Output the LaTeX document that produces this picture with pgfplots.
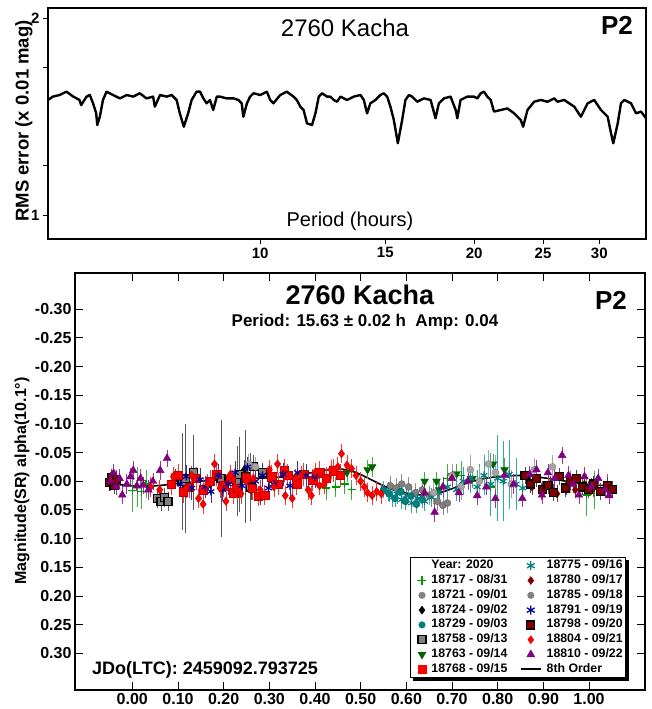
\documentclass[border=0pt]{standalone}
\usepackage{fontspec}
\setmainfont{Liberation Sans}
\usepackage{pgfplots}
\pgfplotsset{compat=1.18}
\pgfdeclarelayer{background}
\pgfsetlayers{background,main}

\definecolor{cGreen}{RGB}{0,150,0}
\definecolor{cGreenEb}{RGB}{70,170,70}
\definecolor{cGray}{RGB}{128,128,128}
\definecolor{cGrayEb}{RGB}{140,140,140}
\definecolor{cLtGray}{RGB}{165,165,165}
\definecolor{cTeal}{RGB}{0,128,128}
\definecolor{cTealEb}{RGB}{50,165,165}
\definecolor{cDkGreen}{RGB}{0,100,0}
\definecolor{cRed}{RGB}{255,0,0}
\definecolor{cRedEb}{RGB}{255,50,50}
\definecolor{cMaroon}{RGB}{128,0,0}
\definecolor{cNavy}{RGB}{0,0,150}
\definecolor{cPurple}{RGB}{128,0,128}
\definecolor{cPurpleEb}{RGB}{160,50,160}

\pgfplotsset{
  eb/.style={error bars/y dir=both, error bars/y explicit,
    error bars/error bar style={color=#1, line width=0.7pt},
    error bars/error mark options={color=#1, line width=0.7pt, mark size=2.8pt}},
  mk/.style={only marks, legend image code/.code={\draw[mark repeat=2,mark phase=2,##1] plot coordinates {(0pt,0pt) (10pt,0pt) (20pt,0pt)};}},
  linelg/.style={legend image code/.code={\draw[##1, black, line width=1.8pt] (0pt,0pt) -- (20pt,0pt);}},
}

\begin{document}
\begin{tikzpicture}
\path[use as bounding box] (0pt,0pt) rectangle (652pt,709pt);

% periodogram
\begin{axis}[at={(48pt,470pt)}, anchor=south west, scale only axis, width=598pt, height=231pt,
  xmode=log, xmin=5.03, xmax=34.9, ymin=0.878, ymax=2.051,
  xtick={10,15,20,25,30}, xticklabels={10,15,20,25,30}, minor xtick={},
  ytick={1,2}, yticklabels={1,2}, minor ytick={1.25,1.75},
  tick align=outside, xtick pos=bottom, ytick pos=left,
  major tick length=5pt, minor tick length=5pt,
  tick style={black, line width=0.8pt}, axis line style={line width=1.8pt},
  tick label style={font=\bfseries\fontsize{15}{15}\selectfont}]
\addplot[black, line width=2.4pt, line join=round] coordinates {
(5.03,1.584) (5.11,1.601) (5.22,1.609) (5.34,1.626) (5.46,1.601) (5.57,1.584) (5.60,1.558)
(5.70,1.601) (5.76,1.609) (5.82,1.567) (5.88,1.516) (5.90,1.457) (5.95,1.499) (6.01,1.584)
(6.08,1.626) (6.21,1.609) (6.35,1.592) (6.49,1.609) (6.63,1.601) (6.77,1.618) (6.92,1.592)
(7.07,1.601) (7.11,1.550) (7.23,1.609) (7.39,1.601) (7.51,1.609) (7.63,1.584) (7.71,1.516)
(7.81,1.448) (7.92,1.516) (8.01,1.584) (8.14,1.626) (8.23,1.626) (8.32,1.592) (8.41,1.567)
(8.50,1.584) (8.59,1.533) (8.69,1.601) (8.78,1.601) (8.97,1.592) (9.17,1.592) (9.32,1.584)
(9.42,1.567) (9.47,1.499) (9.58,1.567) (9.68,1.601) (9.79,1.618) (10.00,1.609) (10.22,1.626)
(10.33,1.584) (10.44,1.567) (10.67,1.609) (10.90,1.626) (11.14,1.601) (11.26,1.584) (11.39,1.550)
(11.51,1.533) (11.64,1.465) (11.83,1.457) (11.96,1.516) (12.09,1.601) (12.22,1.618) (12.42,1.601)
(12.55,1.601) (12.69,1.584) (12.83,1.575) (12.97,1.601) (13.25,1.584) (13.54,1.601) (13.84,1.609)
(13.99,1.584) (14.14,1.516) (14.29,1.567) (14.53,1.584) (14.76,1.609) (14.92,1.618) (15.09,1.601)
(15.25,1.550) (15.42,1.482) (15.62,1.364) (15.84,1.482) (16.01,1.584) (16.19,1.609) (16.36,1.601)
(16.63,1.575) (17.00,1.592) (17.37,1.584) (17.65,1.491) (17.84,1.567) (18.14,1.592) (18.53,1.601)
(18.84,1.533) (18.94,1.491) (19.14,1.584) (19.56,1.601) (19.99,1.601) (20.21,1.592) (20.43,1.618)
(20.65,1.626) (20.87,1.601) (21.10,1.584) (21.33,1.525) (21.80,1.533) (22.28,1.541) (22.76,1.516)
(23.26,1.482) (23.44,1.448) (23.77,1.533) (24.29,1.575) (24.82,1.584) (25.36,1.575) (25.92,1.592)
(26.20,1.575) (26.77,1.584) (27.66,1.550) (28.26,1.499) (28.88,1.567) (29.51,1.584) (30.16,1.533)
(30.82,1.499) (31.16,1.415) (31.39,1.364) (31.84,1.465) (32.18,1.567) (32.53,1.584) (33.25,1.567)
(33.79,1.516) (34.34,1.525) (34.90,1.491)};
\end{axis}

% phased lightcurve
\begin{axis}[at={(75pt,19pt)}, anchor=south west, scale only axis, width=570pt, height=417pt,
  xmin=-0.1255, xmax=1.1226, ymin=-0.363, ymax=0.364, y dir=reverse,
  xtick={0,0.1,0.2,0.3,0.4,0.5,0.6,0.7,0.8,0.9,1.0},
  ytick={-0.3,-0.25,-0.2,-0.15,-0.1,-0.05,0,0.05,0.1,0.15,0.2,0.25,0.3},
  tick align=inside, major tick length=8pt,
  tick style={black, line width=0.8pt}, axis line style={line width=1.5pt},
  tick label style={font=\bfseries\fontsize{16}{16}\selectfont,
    /pgf/number format/fixed, /pgf/number format/fixed zerofill,
    /pgf/number format/precision=2, /pgf/number format/assume math mode=true},
  legend columns=2, legend cell align=left,
  legend style={name=lgd, at={(0.5877,0.3182)}, anchor=north west, draw=black, line width=1pt, fill=white,
    font=\bfseries\fontsize{12.3}{12.5}\selectfont, inner xsep=1.5pt, inner ysep=0.5pt,
    nodes={inner sep=1.5pt, text height=8.8pt, text depth=3pt},
    /tikz/every odd column/.append style={column sep=3.5pt},
    /tikz/every even column/.append style={column sep=11pt}}]

% 8th order fit
\addplot[forget plot, black, line width=1.6pt, smooth] coordinates {
(-0.05,0.004) (0.00,0.008) (0.05,0.008) (0.10,0.004) (0.15,0.000) (0.20,-0.003) (0.25,-0.005)
(0.30,-0.006) (0.35,-0.009) (0.40,-0.016) (0.43,-0.020) (0.46,-0.021) (0.49,-0.015) (0.52,-0.004)
(0.55,0.008) (0.58,0.017) (0.61,0.022) (0.64,0.024) (0.67,0.021) (0.70,0.013) (0.73,0.004)
(0.76,-0.003) (0.80,-0.008) (0.85,-0.010) (0.90,-0.006) (0.95,0.000) (1.00,0.006) (1.05,0.008)};

% 18717 - 08/31
\addplot[forget plot, only marks, mark=+, mark size=4pt, mark options={cGreen, line width=1.2pt}, eb=cGreenEb]
table[x=x, y=y, y error=e] {
x y e
0.000 0.016 0.032
0.010 0.010 0.030
0.020 0.018 0.025
0.030 0.005 0.020
0.425 0.012 0.015
0.445 0.010 0.012
0.465 0.005 0.012
0.480 0.015 0.012
0.690 -0.005 0.020
0.720 -0.010 0.020
0.760 0.000 0.025
0.785 0.010 0.020
0.995 0.024 0.032
1.012 0.015 0.028
};
% 18721 - 09/01
\addplot[forget plot, only marks, mark=*, mark size=3.5pt, mark options={fill=cGray, draw=cGray!70!black, line width=0.4pt}, eb=cGrayEb]
table[x=x, y=y, y error=e] {
x y e
0.565 0.008 0.012
0.578 0.012 0.012
0.590 0.005 0.012
0.605 0.010 0.012
0.620 0.020 0.012
0.635 0.015 0.012
0.650 0.025 0.012
0.668 0.035 0.012
0.680 0.042 0.012
0.690 0.038 0.012
};
% 18724 - 09/02
\addplot[forget plot, only marks, mark=diamond*, mark size=4pt, mark options={fill=black, draw=black}, eb=black!75]
table[x=x, y=y, y error=e] {
x y e
0.095 -0.005 0.012
0.115 0.010 0.012
0.170 0.005 0.012
0.245 -0.020 0.012
0.260 0.015 0.012
0.280 0.025 0.012
0.300 -0.005 0.012
};
% 18729 - 09/03
\addplot[forget plot, only marks, mark=*, mark size=3.5pt, mark options={fill=cTeal, draw=cTeal!70!black, line width=0.4pt}, eb=cTealEb]
table[x=x, y=y, y error=e] {
x y e
0.550 0.015 0.010
0.562 0.022 0.010
0.575 0.030 0.010
0.588 0.018 0.010
0.598 0.035 0.010
0.610 0.026 0.010
0.622 0.040 0.010
0.635 0.032 0.010
};
% 18758 - 09/13
\addplot[forget plot, only marks, mark=square*, mark size=4pt, mark options={fill=cGray, draw=black, line width=1.2pt}, eb=black!65]
table[x=x, y=y, y error=e] {
x y e
0.055 0.030 0.012
0.063 0.035 0.012
0.070 0.028 0.012
0.078 0.035 0.012
0.109 0.000 0.080
0.116 -0.005 0.090
0.134 -0.015 0.060
0.194 -0.005 0.097
0.229 0.000 0.056
0.234 -0.012 0.060
0.247 -0.008 0.076
0.258 0.010 0.055
0.265 -0.025 0.015
0.285 -0.015 0.012
};
% 18763 - 09/14
\addplot[forget plot, only marks, mark=triangle*, mark size=4.5pt, mark options={rotate=180, fill=cDkGreen, draw=cDkGreen}, eb=cGreenEb]
table[x=x, y=y, y error=e] {
x y e
0.470 -0.015 0.012
0.515 -0.020 0.012
0.525 -0.025 0.012
0.640 0.000 0.012
0.666 0.000 0.012
0.672 0.015 0.012
0.700 -0.010 0.012
0.710 -0.013 0.012
0.745 -0.005 0.012
0.790 -0.030 0.012
0.815 -0.020 0.015
};
% 18768 - 09/15
\addplot[forget plot, only marks, mark=square*, mark size=4.2pt, mark options={fill=cRed, draw=cRed!75!black, line width=0.4pt}, eb=cRedEb]
table[x=x, y=y, y error=e] {
x y e
0.085 0.005 0.015
0.100 -0.010 0.015
0.112 0.018 0.015
0.125 0.010 0.015
0.140 -0.005 0.015
0.155 0.015 0.015
0.170 0.000 0.015
0.185 -0.012 0.015
0.200 0.008 0.015
0.215 -0.004 0.015
0.222 0.020 0.015
0.230 0.012 0.015
0.250 -0.006 0.015
0.262 0.012 0.015
0.275 0.026 0.012
0.290 0.024 0.012
0.305 -0.008 0.015
0.320 0.005 0.015
0.332 -0.018 0.015
0.340 -0.010 0.015
0.360 0.004 0.015
0.375 -0.012 0.015
0.395 -0.002 0.015
0.410 -0.015 0.015
0.425 -0.005 0.015
0.440 -0.018 0.015
0.455 -0.010 0.015
1.040 0.008 0.015
};
% 18775 - 09/16
\addplot[forget plot, only marks, mark=asterisk, mark size=4pt, mark options={cTeal, line width=1.2pt}, eb=cTealEb]
table[x=x, y=y, y error=e] {
x y e
0.560 0.018 0.012
0.570 0.028 0.012
0.580 0.022 0.012
0.590 0.032 0.012
0.600 0.025 0.012
0.612 0.038 0.012
0.625 0.030 0.012
0.640 0.035 0.012
0.655 0.028 0.012
0.670 0.020 0.015
0.690 0.010 0.015
0.710 0.015 0.015
0.725 0.000 0.020
0.740 -0.005 0.020
0.755 0.010 0.025
0.770 -0.010 0.030
0.785 0.005 0.050
0.800 -0.005 0.070
0.812 0.000 0.065
0.825 -0.012 0.055
0.840 0.005 0.040
0.855 0.012 0.020
};
% 18780 - 09/17
\addplot[forget plot, only marks, mark=diamond*, mark size=4pt, mark options={fill=cMaroon, draw=cMaroon}, eb=cMaroon!80]
table[x=x, y=y, y error=e] {
x y e
0.875 0.010 0.010
0.895 0.018 0.010
0.915 0.005 0.010
0.930 0.022 0.010
0.950 0.010 0.010
0.970 0.015 0.010
0.990 0.005 0.010
1.010 0.012 0.010
};
% 18785 - 09/18
\addplot[forget plot, only marks, mark=*, mark size=3.5pt, mark options={fill=cLtGray, draw=cGray, line width=0.4pt}, eb=cLtGray]
table[x=x, y=y, y error=e] {
x y e
0.255 -0.030 0.012
0.270 -0.025 0.012
0.660 0.020 0.015
0.700 -0.010 0.015
0.720 0.010 0.018
0.740 -0.020 0.020
0.760 0.000 0.020
0.780 -0.030 0.020
0.795 -0.015 0.025
0.830 0.005 0.020
0.880 -0.020 0.015
0.920 -0.025 0.015
0.960 0.000 0.015
};
% 18791 - 09/19
\addplot[forget plot, only marks, mark=asterisk, mark size=4pt, mark options={cNavy, line width=1.2pt}, eb=cNavy!80]
table[x=x, y=y, y error=e] {
x y e
0.105 0.005 0.015
0.118 -0.008 0.015
0.130 0.012 0.015
0.148 -0.003 0.015
0.160 0.010 0.015
0.172 0.018 0.015
0.188 -0.010 0.015
0.198 0.015 0.015
0.210 0.005 0.015
0.225 -0.015 0.015
0.240 0.008 0.015
0.252 -0.025 0.012
0.270 0.000 0.015
0.285 -0.010 0.015
0.298 0.012 0.015
0.310 0.005 0.015
0.330 -0.012 0.015
0.345 0.008 0.015
0.362 -0.015 0.015
0.380 -0.010 0.015
0.400 -0.008 0.015
};
% 18798 - 09/20
\addplot[forget plot, only marks, mark=square*, mark size=4pt, mark options={fill=cMaroon, draw=black, line width=1.2pt}, eb=black!70]
table[x=x, y=y, y error=e] {
x y e
-0.050 0.002 0.010
-0.045 -0.006 0.010
-0.040 0.008 0.010
-0.034 -0.003 0.012
0.860 -0.010 0.010
0.872 0.005 0.010
0.885 -0.005 0.010
0.898 0.015 0.010
0.910 0.008 0.010
0.922 0.020 0.010
0.935 -0.008 0.010
0.948 0.012 0.010
0.960 0.000 0.010
0.972 -0.005 0.010
0.985 0.010 0.010
0.998 0.015 0.010
1.010 0.005 0.010
1.025 0.018 0.010
1.040 0.008 0.010
1.052 0.015 0.010
};
% 18804 - 09/21
\addplot[forget plot, only marks, mark=diamond*, mark size=4.2pt, mark options={fill=cRed, draw=cRed!75!black, line width=0.4pt}, eb=cRedEb]
table[x=x, y=y, y error=e] {
x y e
0.040 0.010 0.012
0.060 0.015 0.012
0.090 -0.008 0.012
0.118 0.012 0.012
0.130 -0.010 0.012
0.145 0.030 0.012
0.155 0.040 0.012
0.165 0.005 0.012
0.180 -0.030 0.012
0.192 0.012 0.012
0.205 0.035 0.012
0.215 -0.012 0.012
0.225 0.010 0.012
0.238 0.022 0.012
0.250 0.000 0.012
0.265 -0.005 0.012
0.280 0.015 0.012
0.300 -0.020 0.012
0.310 0.010 0.012
0.318 -0.030 0.012
0.335 0.025 0.012
0.350 0.030 0.012
0.358 -0.005 0.012
0.370 -0.010 0.012
0.385 0.015 0.012
0.392 0.025 0.012
0.400 -0.015 0.012
0.410 0.008 0.012
0.420 0.005 0.012
0.435 -0.020 0.012
0.450 -0.025 0.012
0.458 -0.048 0.012
0.470 -0.028 0.012
0.480 -0.022 0.012
0.490 -0.010 0.012
0.500 0.000 0.012
0.508 0.010 0.012
0.515 0.020 0.012
0.525 0.025 0.012
0.535 0.018 0.012
0.545 0.022 0.012
};
% 18810 - 09/22
\addplot[forget plot, only marks, mark=triangle*, mark size=4.5pt, mark options={fill=cPurple, draw=cPurple}, eb=cPurpleEb]
table[x=x, y=y, y error=e] {
x y e
-0.048 0.000 0.012
-0.041 -0.014 0.012
-0.035 0.010 0.010
-0.028 -0.005 0.012
-0.022 0.024 0.010
-0.012 0.005 0.012
-0.004 -0.008 0.010
0.002 -0.019 0.012
0.010 0.008 0.010
0.018 -0.005 0.012
0.024 0.007 0.010
0.035 0.015 0.012
0.045 0.000 0.010
0.061 -0.019 0.012
0.076 -0.040 0.010
0.640 0.020 0.010
0.662 0.054 0.012
0.680 0.010 0.012
0.700 -0.005 0.010
0.715 0.020 0.012
0.735 0.000 0.010
0.755 0.025 0.012
0.775 0.010 0.010
0.795 0.030 0.012
0.815 -0.010 0.010
0.835 0.005 0.012
0.854 0.030 0.010
0.870 -0.012 0.010
0.885 -0.020 0.012
0.897 0.024 0.010
0.910 -0.015 0.010
0.925 -0.005 0.012
0.941 -0.045 0.010
0.955 -0.010 0.012
0.965 0.005 0.010
0.978 0.024 0.010
0.990 -0.008 0.012
1.005 0.010 0.010
1.020 -0.005 0.012
1.035 0.015 0.010
1.044 0.025 0.010
};

% legend, row by row
\addlegendimage{empty legend}\addlegendentry{Year: 2020}
\addlegendimage{mk, mark=asterisk, mark size=4.5pt, mark options={cTeal, line width=1.3pt}}\addlegendentry{18775 - 09/16}
\addlegendimage{mk, mark=+, mark size=4.5pt, mark options={cGreen, line width=1.5pt}}\addlegendentry{18717 - 08/31}
\addlegendimage{mk, mark=diamond*, mark size=4pt, mark options={fill=cMaroon, draw=cMaroon, line width=0.4pt}}\addlegendentry{18780 - 09/17}
\addlegendimage{mk, mark=*, mark size=3.3pt, mark options={fill=cGray, draw=cGray, line width=0.4pt}}\addlegendentry{18721 - 09/01}
\addlegendimage{mk, mark=*, mark size=3.3pt, mark options={fill=cGray, draw=cGray, line width=0.4pt}}\addlegendentry{18785 - 09/18}
\addlegendimage{mk, mark=diamond*, mark size=4pt, mark options={fill=black, draw=black, line width=0.4pt}}\addlegendentry{18724 - 09/02}
\addlegendimage{mk, mark=asterisk, mark size=4.5pt, mark options={cNavy, line width=1.3pt}}\addlegendentry{18791 - 09/19}
\addlegendimage{mk, mark=*, mark size=3.3pt, mark options={fill=cTeal, draw=cTeal, line width=0.4pt}}\addlegendentry{18729 - 09/03}
\addlegendimage{mk, mark=square*, mark size=4pt, mark options={fill=cMaroon, draw=black, line width=1.3pt}}\addlegendentry{18798 - 09/20}
\addlegendimage{mk, mark=square*, mark size=4pt, mark options={fill=cGray, draw=black, line width=1.3pt}}\addlegendentry{18758 - 09/13}
\addlegendimage{mk, mark=diamond*, mark size=4pt, mark options={fill=cRed, draw=cRed, line width=0.4pt}}\addlegendentry{18804 - 09/21}
\addlegendimage{mk, mark=triangle*, mark size=4.6pt, mark options={rotate=180, fill=cDkGreen, draw=cDkGreen, line width=0.4pt}}\addlegendentry{18763 - 09/14}
\addlegendimage{mk, mark=triangle*, mark size=4.6pt, mark options={fill=cPurple, draw=cPurple, line width=0.4pt}}\addlegendentry{18810 - 09/22}
\addlegendimage{mk, mark=square*, mark size=4pt, mark options={fill=cRed, draw=cRed, line width=0.4pt}}\addlegendentry{18768 - 09/15}
\addlegendimage{linelg}\addlegendentry{8th Order}
\end{axis}

% shadow behind the legend box
\begin{pgfonlayer}{background}
\fill[black] ([xshift=3pt,yshift=-3pt]lgd.south west) rectangle ([xshift=3pt,yshift=-3pt]lgd.north east);
\end{pgfonlayer}

% titles and labels
\node[anchor=base, font=\fontsize{24}{24}\selectfont] at (345pt,672pt) {2760 Kacha};
\node[anchor=base, font=\bfseries\fontsize{26}{26}\selectfont] at (617pt,674pt) {P2};
\node[anchor=base, font=\fontsize{20}{20}\selectfont] at (350pt,482pt) {Period (hours)};
\node[rotate=90, font=\bfseries\fontsize{18.5}{18.5}\selectfont] at (24pt,588pt) {RMS error (x 0.01 mag)};

\node[anchor=base, font=\bfseries\fontsize{27}{27}\selectfont] at (360pt,404pt) {2760 Kacha};
\node[anchor=base, font=\bfseries\fontsize{26}{26}\selectfont] at (611pt,399pt) {P2};
\node[anchor=base, font=\bfseries\fontsize{17}{17}\selectfont] at (365pt,382pt) {Period: 15.63 ± 0.02 h\ \ Amp: 0.04};
\node[anchor=base west, inner sep=0pt, font=\bfseries\fontsize{18}{18}\selectfont] at (92pt,34pt) {JDo(LTC): 2459092.793725};
\node[rotate=90, font=\bfseries\fontsize{16}{16}\selectfont] at (22pt,228pt) {Magnitude(SR) alpha(10.1°)};
\end{tikzpicture}
\end{document}
